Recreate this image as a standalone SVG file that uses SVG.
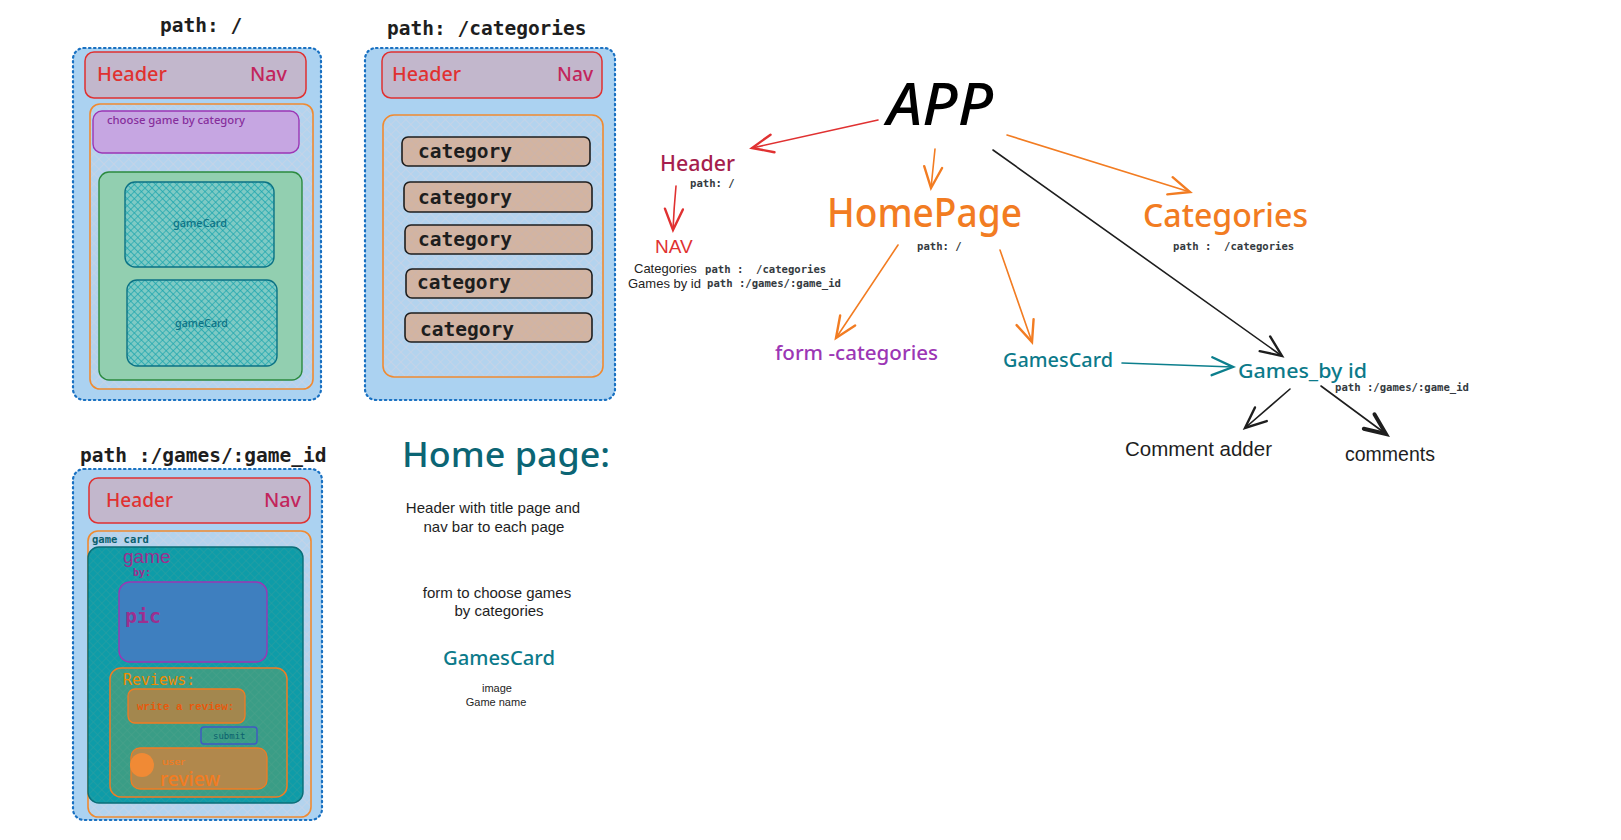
<svg xmlns="http://www.w3.org/2000/svg" width="1621" height="840" viewBox="0 0 1621 840">
<defs>
<style>
.mono{font-family:"DejaVu Sans Mono","Liberation Mono",monospace;font-weight:bold}
.sans{font-family:"Liberation Sans",Arial,sans-serif}
.hand{font-family:"Noto Sans","Open Sans",sans-serif;font-weight:500}
.outer{fill:#abd2f1;stroke:#1971c2;stroke-width:2.2;stroke-dasharray:1.5 3.5;stroke-linecap:round}
.hdr{fill:#c2b7cc;stroke:#e03131;stroke-width:1.5}
.orange{fill:url(#hlight);stroke:#f08a30;stroke-width:1.6}
.cat{fill:url(#htan);stroke:#1e1e1e;stroke-width:1.6}
.conn{fill:none;stroke-width:1.6;stroke-linecap:round}
</style>
<pattern id="hlight" width="7" height="7" patternUnits="userSpaceOnUse" patternTransform="rotate(45)">
<rect width="7" height="7" fill="#b3d3ee"/>
<path d="M0,0H7M0,0V7" stroke="#c9d3e6" stroke-width="1.4"/>
</pattern>
<pattern id="htan" width="6" height="6" patternUnits="userSpaceOnUse" patternTransform="rotate(45)">
<rect width="6" height="6" fill="#d3b4a1"/>
<path d="M0,0H6M0,0V6" stroke="#c9b4b0" stroke-width="1"/>
</pattern>
<pattern id="hteal" width="5" height="5" patternUnits="userSpaceOnUse" patternTransform="rotate(45)">
<rect width="5" height="5" fill="#7fcac4"/>
<path d="M0,0H5M0,0V5" stroke="#1ba5ae" stroke-width="1.3"/>
</pattern>
<pattern id="hteal2" width="6" height="6" patternUnits="userSpaceOnUse" patternTransform="rotate(45)">
<rect width="6" height="6" fill="#0e9ca8"/>
<path d="M0,0H6M0,0V6" stroke="#2f9ea0" stroke-width="1"/>
</pattern>
<pattern id="hgreen" width="6" height="6" patternUnits="userSpaceOnUse" patternTransform="rotate(45)">
<rect width="6" height="6" fill="#3a9d86"/>
<path d="M0,0H6M0,0V6" stroke="#4aa18a" stroke-width="1"/>
</pattern>
<marker id="aRed" markerUnits="userSpaceOnUse" markerWidth="30" markerHeight="30" viewBox="-16 -8 20 16" refX="0" refY="0" orient="auto"><path d="M-14,-6L0,0L-14,6" fill="none" stroke="#e03131" stroke-width="1.6" stroke-linecap="round"/></marker>
<marker id="aOr" markerUnits="userSpaceOnUse" markerWidth="30" markerHeight="30" viewBox="-16 -8 20 16" refX="0" refY="0" orient="auto"><path d="M-14,-6L0,0L-14,6" fill="none" stroke="#f27c22" stroke-width="1.6" stroke-linecap="round"/></marker>
<marker id="aBk" markerUnits="userSpaceOnUse" markerWidth="30" markerHeight="30" viewBox="-16 -8 20 16" refX="0" refY="0" orient="auto"><path d="M-14,-6L0,0L-14,6" fill="none" stroke="#1e1e1e" stroke-width="1.6" stroke-linecap="round"/></marker>
<marker id="aBk2" markerUnits="userSpaceOnUse" markerWidth="30" markerHeight="30" viewBox="-16 -8 20 16" refX="0" refY="0" orient="auto"><path d="M-14,-6L0,0L-14,6" fill="none" stroke="#1e1e1e" stroke-width="2.6" stroke-linecap="round"/></marker>
<marker id="aTeal" markerUnits="userSpaceOnUse" markerWidth="30" markerHeight="30" viewBox="-16 -8 20 16" refX="0" refY="0" orient="auto"><path d="M-14,-6L0,0L-14,6" fill="none" stroke="#0c7f8d" stroke-width="1.6" stroke-linecap="round"/></marker>
</defs>
<rect width="1621" height="840" fill="#ffffff"/>

<!-- Wireframe: path / -->
<g id="wire-home">
<text class="mono" x="160" y="32" font-size="19.5" fill="#1e1e1e">path: /</text>
<rect class="outer" x="73" y="48" width="248" height="352" rx="11"/>
<rect class="hdr" x="85" y="52" width="221" height="46" rx="9"/>
<text class="hand" x="97" y="81" font-size="20" fill="#e03131" textLength="70" lengthAdjust="spacingAndGlyphs">Header</text>
<text class="hand" x="250" y="81" font-size="20" fill="#c2255c" textLength="37" lengthAdjust="spacingAndGlyphs">Nav</text>
<rect class="orange" x="90" y="104" width="223" height="285" rx="10"/>
<rect x="93" y="111" width="206" height="42" rx="9" fill="#c6a6e2" stroke="#9c36b5" stroke-width="1.4"/>
<text class="hand" x="107" y="124" font-size="10" fill="#862e9c" textLength="138" lengthAdjust="spacingAndGlyphs">choose game by category</text>
<rect x="99" y="172" width="203" height="208" rx="10" fill="#92cfb0" stroke="#2b8a3e" stroke-width="1.4"/>
<rect x="125" y="182" width="149" height="85" rx="10" fill="url(#hteal)" stroke="#0b7285" stroke-width="1.4"/>
<text class="hand" x="173" y="227" font-size="10" fill="#0b7285" textLength="54" lengthAdjust="spacingAndGlyphs">gameCard</text>
<rect x="127" y="280" width="150" height="86" rx="10" fill="url(#hteal)" stroke="#0b7285" stroke-width="1.4"/>
<text class="hand" x="175" y="327" font-size="10" fill="#0b7285" textLength="53" lengthAdjust="spacingAndGlyphs">gameCard</text>
</g>

<!-- Wireframe: path /categories -->
<g id="wire-categories">
<text class="mono" x="387" y="35" font-size="19.5" fill="#1e1e1e">path: /categories</text>
<rect class="outer" x="365" y="48" width="250" height="352" rx="11"/>
<rect class="hdr" x="382" y="52" width="220" height="46" rx="9"/>
<text class="hand" x="392" y="81" font-size="20" fill="#e03131" textLength="69" lengthAdjust="spacingAndGlyphs">Header</text>
<text class="hand" x="557" y="81" font-size="20" fill="#c2255c" textLength="36" lengthAdjust="spacingAndGlyphs">Nav</text>
<rect class="orange" x="383" y="115" width="220" height="262" rx="11"/>
<rect class="cat" x="402" y="137" width="188" height="29" rx="6"/>
<text class="mono" x="418" y="158" font-size="19.5" fill="#1e1e1e">category</text>
<rect class="cat" x="404" y="182" width="188" height="30" rx="6"/>
<text class="mono" x="418" y="204" font-size="19.5" fill="#1e1e1e">category</text>
<rect class="cat" x="405" y="225" width="187" height="29" rx="6"/>
<text class="mono" x="418" y="246" font-size="19.5" fill="#1e1e1e">category</text>
<rect class="cat" x="406" y="269" width="186" height="29" rx="6"/>
<text class="mono" x="417" y="289" font-size="19.5" fill="#1e1e1e">category</text>
<rect class="cat" x="405" y="313" width="187" height="29" rx="6"/>
<text class="mono" x="420" y="336" font-size="19.5" fill="#1e1e1e">category</text>
</g>

<!-- Wireframe: path /games/:game_id -->
<g id="wire-game">
<text class="mono" x="80" y="462" font-size="19.5" fill="#1e1e1e">path :/games/:game_id</text>
<rect class="outer" x="73" y="469" width="249" height="351" rx="11"/>
<rect class="hdr" x="89" y="478" width="221" height="45" rx="9"/>
<text class="hand" x="106" y="507" font-size="20" fill="#e03131" textLength="67" lengthAdjust="spacingAndGlyphs">Header</text>
<text class="hand" x="264" y="507" font-size="20" fill="#c2255c" textLength="37" lengthAdjust="spacingAndGlyphs">Nav</text>
<rect class="orange" x="88" y="531" width="223" height="286" rx="10"/>
<text class="mono" x="92" y="543" font-size="10.5" fill="#0b5f6e">game card</text>
<rect x="88" y="547" width="215" height="256" rx="11" fill="url(#hteal2)" stroke="#0b6e78" stroke-width="1.4"/>
<text class="sans" x="123" y="563" font-size="19" fill="#9c2f8f">game</text>
<text class="mono" x="133" y="576" font-size="10" fill="#9c2f8f">by:</text>
<rect x="119" y="582" width="148" height="80" rx="11" fill="#3e7fbf" stroke="#9c36b5" stroke-width="1.4"/>
<text class="mono" x="125" y="623" font-size="20" fill="#9c2f8f">pic</text>
<rect x="110" y="668" width="177" height="129" rx="11" fill="url(#hgreen)" stroke="#f27c22" stroke-width="1.5"/>
<text class="mono" x="123" y="685" font-size="15" fill="#f08c00" style="font-weight:normal">Reviews:</text>
<rect x="128" y="689" width="117" height="34" rx="7" fill="#a3874e" stroke="#f27c22" stroke-width="1.3"/>
<text x="137" y="710" font-family="Liberation Mono,monospace" font-weight="bold" font-size="10.8" fill="#e8590c">write a review:</text>
<rect x="201" y="727" width="56" height="17" rx="3" fill="none" stroke="#4158c4" stroke-width="1.4"/>
<text class="mono" x="213" y="739" font-size="9" fill="#0b5f6e" style="font-weight:normal">submit</text>
<rect x="131" y="748" width="136" height="41" rx="9" fill="#b1884c" stroke="#f27c22" stroke-width="1.3"/>
<circle cx="142" cy="765" r="12" fill="#f08a35"/>
<text class="hand" x="162" y="765" font-size="9.5" fill="#f27c22" textLength="23" lengthAdjust="spacingAndGlyphs">user</text>
<text class="hand" x="160" y="786" font-size="19" fill="#f27c22" textLength="60" lengthAdjust="spacingAndGlyphs">review</text>
</g>

<!-- Notes -->
<g id="notes">
<text class="hand" x="402" y="467" font-size="34" fill="#0b6574" font-weight="700" textLength="208" lengthAdjust="spacingAndGlyphs">Home page:</text>
<g class="sans" font-size="15" fill="#1e1e1e" text-anchor="middle">
<text x="493" y="513">Header with title page and</text>
<text x="494" y="532">nav bar to each page</text>
<text x="497" y="598">form to choose games</text>
<text x="499" y="616">by categories</text>
</g>
<text class="hand" x="443" y="665" font-size="20" fill="#0c7a8a" textLength="112" lengthAdjust="spacingAndGlyphs">GamesCard</text>
<g class="sans" font-size="11" fill="#1e1e1e" text-anchor="middle">
<text x="497" y="692">image</text>
<text x="496" y="706">Game name</text>
</g>
</g>

<!-- Connectors -->
<g id="connectors">
<path class="conn" d="M878,120L752,148" stroke="#e03131" marker-end="url(#aRed)"/>
<path class="conn" d="M676,186Q674,207 673,230" stroke="#e03131" marker-end="url(#aRed)"/>
<path class="conn" d="M935,149L931,188" stroke="#f27c22" marker-end="url(#aOr)"/>
<path class="conn" d="M1007,135L1190,192" stroke="#f27c22" marker-end="url(#aOr)"/>
<path class="conn" d="M993,150L1282,356" stroke="#1e1e1e" marker-end="url(#aBk)"/>
<path class="conn" d="M898,245L836,338" stroke="#f27c22" marker-end="url(#aOr)"/>
<path class="conn" d="M1000,250L1032,342" stroke="#f27c22" marker-end="url(#aOr)"/>
<path class="conn" d="M1122,363L1233,367" stroke="#0c7f8d" marker-end="url(#aTeal)"/>
<path class="conn" d="M1290,389L1245,428" stroke="#1e1e1e" marker-end="url(#aBk)"/>
<path class="conn" d="M1321,386L1386,434" stroke="#1e1e1e" stroke-width="2.6" marker-end="url(#aBk2)"/>
</g>

<!-- Graph nodes -->
<g id="node-app">
<text class="hand" x="887" y="125" font-size="58" font-weight="700" font-style="italic" fill="#000000" textLength="106" lengthAdjust="spacingAndGlyphs">APP</text>
</g>
<g id="node-header">
<text class="hand" x="660" y="171" font-size="22" fill="#a61e4d" textLength="75" lengthAdjust="spacingAndGlyphs">Header</text>
<text class="mono" x="690" y="187" font-size="10.6" fill="#343a40">path: /</text>
</g>
<g id="node-nav">
<text class="sans" x="655" y="253" font-size="19" fill="#e03131">NAV</text>
<text class="sans" x="634" y="273" font-size="13" fill="#1e1e1e">Categories</text>
<text class="mono" x="705" y="273" font-size="10.6" fill="#343a40" xml:space="preserve">path :  /categories</text>
<text class="sans" x="628" y="288" font-size="13" fill="#1e1e1e">Games by id</text>
<text class="mono" x="707" y="287" font-size="10.6" fill="#343a40">path :/games/:game_id</text>
</g>
<g id="node-homepage">
<text class="hand" x="827" y="227" font-size="40" font-weight="600" fill="#f27c22" textLength="195" lengthAdjust="spacingAndGlyphs">HomePage</text>
<text class="mono" x="917" y="250" font-size="10.6" fill="#343a40">path: /</text>
</g>
<g id="node-categories">
<text class="hand" x="1143" y="227" font-size="32" font-weight="600" fill="#f27c22" textLength="165" lengthAdjust="spacingAndGlyphs">Categories</text>
<text class="mono" x="1173" y="250" font-size="10.6" fill="#343a40" xml:space="preserve">path :  /categories</text>
</g>
<g id="node-form">
<text class="hand" x="775" y="360" font-size="20" fill="#9c36b5" textLength="163" lengthAdjust="spacingAndGlyphs">form -categories</text>
</g>
<g id="node-gamescard">
<text class="hand" x="1003" y="367" font-size="20" fill="#0c7a8a" textLength="110" lengthAdjust="spacingAndGlyphs">GamesCard</text>
</g>
<g id="node-gamesbyid">
<text class="hand" x="1238" y="378" font-size="20" fill="#0c7a8a" textLength="129" lengthAdjust="spacingAndGlyphs">Games_by id</text>
<text class="mono" x="1335" y="391" font-size="10.6" fill="#343a40">path :/games/:game_id</text>
</g>
<g id="node-commentadder">
<text class="sans" x="1125" y="456" font-size="20.5" fill="#1e1e1e">Comment adder</text>
</g>
<g id="node-comments">
<text class="sans" x="1345" y="461" font-size="19.5" fill="#1e1e1e">comments</text>
</g>
</svg>
